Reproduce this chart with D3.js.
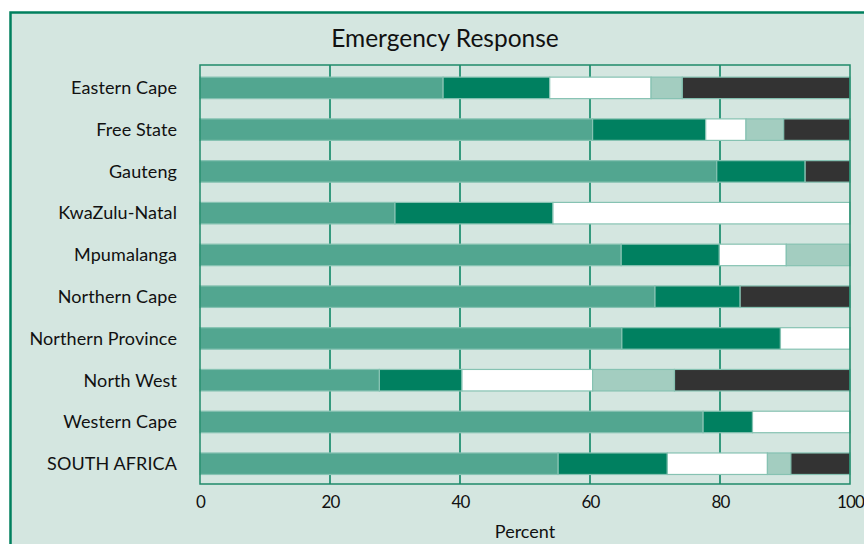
<!DOCTYPE html>
<html>
<head>
<meta charset="utf-8">
<script src="https://cdn.jsdelivr.net/npm/d3@7"></script>
<style>
  html, body { margin: 0; padding: 0; background: #ffffff; }
  svg { display: block; }
  text { font-family: Lato, "Open Sans", sans-serif; fill: #111; }
</style>
</head>
<body>
<svg id="chart" width="864" height="544"></svg>
<script>
// Provinces, top to bottom
const categories = [
  "Eastern Cape", "Free State", "Gauteng", "KwaZulu-Natal", "Mpumalanga",
  "Northern Cape", "Northern Province", "North West", "Western Cape", "SOUTH AFRICA"
];
// Percentage shares for the five response groups (stacked left to right)
const series1 = [37.4, 60.4, 79.5, 30.0, 64.8, 70.0, 64.9, 27.6, 77.4, 55.1];
const series2 = [16.4, 17.4, 13.6, 24.3, 15.1, 13.1, 24.4, 12.7,  7.6, 16.8];
const series3 = [15.6,  6.2,  0.0, 45.7, 10.3,  0.0, 10.7, 20.1, 15.0, 15.4];
const series4 = [ 4.8,  5.8,  0.0,  0.0,  9.8,  0.0,  0.0, 12.6,  0.0,  3.6];
const series5 = [25.8, 10.2,  6.9,  0.0,  0.0, 16.9,  0.0, 27.0,  0.0,  9.1];
const xTicks = [0, 20, 40, 60, 80, 100];

const keys = ["s1", "s2", "s3", "s4", "s5"];
const colors = ["#52a690", "#008060", "#ffffff", "#a3cdc0", "#333333"];

const rows = categories.map((c, i) => ({
  name: c, s1: series1[i], s2: series2[i], s3: series3[i], s4: series4[i], s5: series5[i]
}));

const svg = d3.select("#chart");

// framed panel
svg.append("rect")
  .attr("x", 10.5).attr("y", 12.5)
  .attr("width", 880).attr("height", 560)
  .attr("fill", "#d4e6e0")
  .attr("stroke", "#00805e").attr("stroke-width", 2.5);

svg.append("text")
  .attr("x", 445).attr("y", 47)
  .attr("text-anchor", "middle")
  .attr("font-size", 24.5)
  .text("Emergency Response");

const x = d3.scaleLinear().domain([0, 100]).range([200, 850]);
const y = d3.scaleBand().domain(categories).range([67, 484.6]).paddingInner(0.485).paddingOuter(0.2425);

const plotTop = 65, plotBottom = 484;

// vertical gridlines
svg.append("g")
  .selectAll("line")
  .data(xTicks.slice(1, -1))
  .join("line")
  .attr("x1", d => x(d)).attr("x2", d => x(d))
  .attr("y1", plotTop).attr("y2", plotBottom)
  .attr("stroke", "#00805e").attr("stroke-width", 1.5);

// stacked bars
const stack = d3.stack().keys(keys)(rows);
svg.append("g")
  .selectAll("g")
  .data(stack)
  .join("g")
  .attr("fill", (d, i) => colors[i])
  .selectAll("rect")
  .data(d => d.filter(s => s[1] - s[0] > 0))
  .join("rect")
  .attr("x", d => x(d[0]))
  .attr("y", d => y(d.data.name))
  .attr("width", d => x(d[1]) - x(d[0]))
  .attr("height", y.bandwidth())
  .attr("stroke", "#86c2b2").attr("stroke-width", 1.2);

// plot border
svg.append("rect")
  .attr("x", x(0)).attr("y", plotTop)
  .attr("width", x(100) - x(0)).attr("height", plotBottom - plotTop)
  .attr("fill", "none")
  .attr("stroke", "#1f8a6a").attr("stroke-width", 1.5);

// category labels
svg.append("g")
  .selectAll("text")
  .data(categories)
  .join("text")
  .attr("x", 177)
  .attr("y", d => y(d) + y.bandwidth() / 2)
  .attr("dy", "0.35em")
  .attr("text-anchor", "end")
  .attr("font-size", 18)
  .attr("letter-spacing", 0.1)
  .text(d => d);

// x axis labels
const xAxis = d3.axisBottom(x).tickValues(xTicks).tickSize(0).tickPadding(12);
const gx = svg.append("g").attr("transform", `translate(0,${plotBottom})`).call(xAxis);
gx.select(".domain").remove();
gx.selectAll("text")
  .attr("font-size", 17)
  .attr("letter-spacing", -0.8)
  .style("font-family", "Lato, 'Open Sans', sans-serif")
  .attr("fill", "#111");

svg.append("text")
  .attr("x", 525).attr("y", 538)
  .attr("text-anchor", "middle")
  .attr("font-size", 18)
  .text("Percent");
</script>
</body>
</html>
